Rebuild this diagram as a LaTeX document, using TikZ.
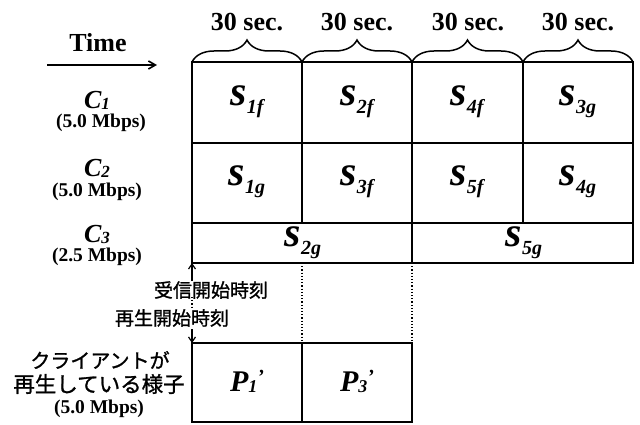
\documentclass[tikz,border=0pt]{standalone}
\usepackage{fontspec}
\setmainfont{Liberation Serif}
\newfontfamily\jp[FakeBold=1.2]{Noto Sans CJK JP}
\usetikzlibrary{decorations.pathreplacing,arrows.meta}
\newcommand{\fs}[1]{\fontsize{#1}{#1}\selectfont}
\newcommand{\sv}[1]{{\fs{42}\bfseries\itshape s}\raisebox{-8pt}{\fs{20}\bfseries\itshape #1}}
\newcommand{\chan}[1]{{\fs{26}\bfseries\itshape C}\raisebox{-1pt}{\fs{17}\bfseries\itshape #1}}
\newcommand{\pv}[1]{{\fs{30}\bfseries\itshape P}\raisebox{-1pt}{\fs{18}\bfseries\itshape #1}\raisebox{8pt}{\fs{20}\bfseries\itshape '}}
\begin{document}
\begin{tikzpicture}[x=1pt,y=-1pt,
  cell/.style={draw,line width=1.6pt,anchor=north west,inner sep=0pt,outer sep=0pt},
  lbl/.style={inner sep=0pt,font=\bfseries\fs{26}},
  rate/.style={inner sep=0pt,font=\bfseries\fs{19.5}},
  jtxt/.style={inner sep=0pt,font=\jp\fs{19}},
  brc/.style={decorate,decoration={brace,amplitude=22pt},line width=1.5pt}]
\useasboundingbox (0,0) rectangle (640,425);
% row 1
\node[cell,minimum width=110pt,minimum height=81pt] (a1) at (192,62) {};
\node[cell,minimum width=110pt,minimum height=81pt] (a2) at (302,62) {};
\node[cell,minimum width=111pt,minimum height=81pt] (a3) at (412,62) {};
\node[cell,minimum width=110pt,minimum height=81pt] (a4) at (523,62) {};
% row 2
\node[cell,minimum width=110pt,minimum height=80pt] (b1) at (192,143) {};
\node[cell,minimum width=110pt,minimum height=80pt] (b2) at (302,143) {};
\node[cell,minimum width=111pt,minimum height=80pt] (b3) at (412,143) {};
\node[cell,minimum width=110pt,minimum height=80pt] (b4) at (523,143) {};
% row 3
\node[cell,minimum height=40pt,minimum width=220pt] (s2g) at (192,223) {};
\node[cell,minimum height=40pt,minimum width=221pt] (s5g) at (412,223) {};
% playback
\node[cell,minimum width=110pt,minimum height=79pt] (p1) at (192,343) {};
\node[cell,minimum width=110pt,minimum height=79pt] (p3) at (302,343) {};
% cell texts
\node[inner sep=0pt] (t11) at (247,102) {\sv{1f}};
\node[inner sep=0pt] (t12) at (357,102) {\sv{2f}};
\node[inner sep=0pt] (t13) at (467,102) {\sv{4f}};
\node[inner sep=0pt] (t14) at (578,102) {\sv{3g}};
\node[inner sep=0pt] (t21) at (247,182) {\sv{1g}};
\node[inner sep=0pt] (t22) at (357,182) {\sv{3f}};
\node[inner sep=0pt] (t23) at (467,182) {\sv{5f}};
\node[inner sep=0pt] (t24) at (578,182) {\sv{4g}};
\node[inner sep=0pt] (t31) at (303,243) {\sv{2g}};
\node[inner sep=0pt] (t32) at (524,243) {\sv{5g}};
\node[inner sep=0pt] (tp1) at (247,381) {\pv{1}};
\node[inner sep=0pt] (tp3) at (357,381) {\pv{3}};
% braces
\draw[brc] (a1.north west) -- (a1.north east);
\draw[brc] (a2.north west) -- (a2.north east);
\draw[brc] (a3.north west) -- (a3.north east);
\draw[brc] (a4.north west) -- (a4.north east);
\node[lbl] (h1) at (247,22) {30 sec.};
\node[lbl] (h2) at (357,22) {30 sec.};
\node[lbl] (h3) at (468,22) {30 sec.};
\node[lbl] (h4) at (578,22) {30 sec.};
% time
\node[lbl] (time) at (98,43) {Time};
\coordinate (ta) at (47,65);
\coordinate (tb) at (157,65);
\draw[line width=1.6pt,-{Straight Barb[length=7pt,width=8pt]}] (ta) -- (tb);
% channels
\node[inner sep=0pt] (c1) at (97,100) {\chan{1}};
\node[rate] (r1) at (101,123) {(5.0 Mbps)};
\node[inner sep=0pt] (c2) at (97,168) {\chan{2}};
\node[rate] (r2) at (97,192) {(5.0 Mbps)};
\node[inner sep=0pt] (c3) at (97,234) {\chan{3}};
\node[rate] (r3) at (97,257) {(2.5 Mbps)};
% dotted guides
\draw[dotted,line width=1.2pt] (s2g.south) -- (p3.north west);
\draw[dotted,line width=1.2pt] (s2g.south east) -- (p3.north east);
% start markers
\node[jtxt] (recv) at (211,290) {受信開始時刻};
\node[jtxt] (play) at (172,318) {再生開始時刻};
\coordinate (u1) at (192,281);
\coordinate (d1) at (192,297);
\coordinate (d2) at (192,307);
\coordinate (u2) at (192,329);
\draw[line width=1.2pt,-{Straight Barb[length=5pt,width=7pt]}] (u1) -- (s2g.south west);
\draw[dotted,line width=1.2pt] (d1) -- (d2);
\draw[line width=1.2pt,-{Straight Barb[length=5pt,width=7pt]}] (u2) -- (p1.north west);
% client
\node[jtxt,font=\jp\fs{20}] (cl1) at (100,360) {クライアントが};
\node[jtxt,font=\jp\fs{21.5}] (cl2) at (99,384) {再生している様子};
\node[rate] (cl3) at (99,409) {(5.0 Mbps)};
\end{tikzpicture}
\end{document}
